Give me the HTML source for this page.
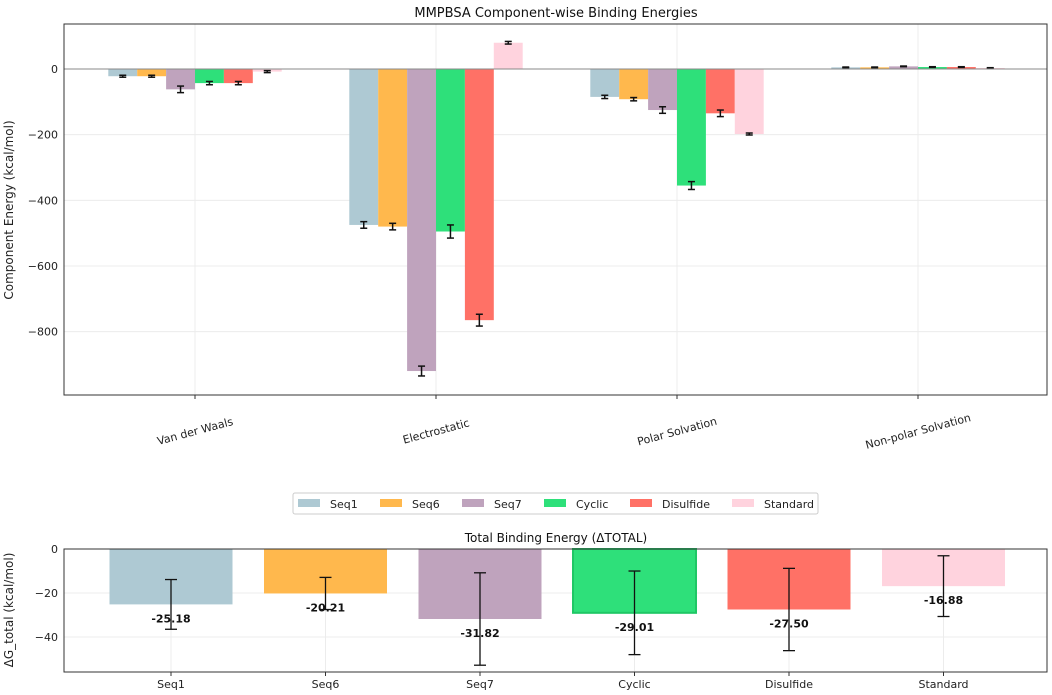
<!DOCTYPE html>
<html><head><meta charset="utf-8"><style>
body{margin:0;background:#fff;}
svg{display:block;font-family:"DejaVu Sans","Liberation Sans",sans-serif;}
</style></head><body>
<svg id="c" width="1052" height="695" viewBox="0 0 1052 695"></svg>
<script>
const categories=["Van der Waals","Electrostatic","Polar Solvation","Non-polar Solvation"];
const seriesNames=["Seq1","Seq6","Seq7","Cyclic","Disulfide","Standard"];
const colors=["#aec9d3","#ffb84d","#bfa3bd","#2ee07a","#ff7166","#ffd3de"];
const seq1Vals=[-22,-475,-85,5];
const seq6Vals=[-22,-480,-92,5];
const seq7Vals=[-62,-920,-125,8];
const cyclicVals=[-43,-495,-355,6];
const disulfideVals=[-43,-765,-135,6];
const standardVals=[-8,80,-198,3];
const seq1Err=[3,10,5,1];
const seq6Err=[3,10,5,1];
const seq7Err=[10,15,10,1];
const cyclicErr=[5,20,12,1];
const disulfideErr=[5,18,10,1];
const standardErr=[3,4,3,1];
const topTicks=[0,-200,-400,-600,-800];
const totalVals=[-25.18,-20.21,-31.82,-29.01,-27.50,-16.88];
const totalErr=[11.3,7.3,21,19,18.7,13.8];
const bottomTicks=[0,-20,-40];

const svg=document.getElementById('c');const NS='http://www.w3.org/2000/svg';
function mk(t,a,p){const e=document.createElementNS(NS,t);for(const k in a)e.setAttribute(k,a[k]);(p||svg).appendChild(e);return e;}
const allVals=[seq1Vals,seq6Vals,seq7Vals,cyclicVals,disulfideVals,standardVals];
const allErr=[seq1Err,seq6Err,seq7Err,cyclicErr,disulfideErr,standardErr];

const L=64,R=1047,T1=24,B1=395;
const y1=v=>69-v*0.3283;
const gx=i=>195+i*241;
const bw=28.9;
let t=mk('text',{x:556,y:17,'text-anchor':'middle','font-size':13,fill:'#111'});t.textContent='MMPBSA Component-wise Binding Energies';

topTicks.forEach(v=>{
 const g=mk('line',{x1:L,x2:R,y1:y1(v),y2:y1(v),stroke:'#ececec','stroke-width':1});
 
 const tx=mk('text',{x:L-6,y:y1(v)+4,'text-anchor':'end','font-size':11,fill:'#222'});tx.textContent=v===0?'0':'\u2212'+Math.abs(v);
 
});
categories.forEach((c,i)=>{
 mk('line',{x1:gx(i),x2:gx(i),y1:T1,y2:B1,stroke:'#ececec'});
 mk('line',{x1:gx(i),x2:gx(i),y1:B1,y2:B1+4,stroke:'#333'});
 const tx=mk('text',{x:gx(i),y:B1+40,'text-anchor':'middle','font-size':11,fill:'#222',transform:`rotate(-15 ${gx(i)} ${B1+36})`});tx.textContent=c;
 
});
allVals.forEach((vals,s)=>{
 vals.forEach((v,i)=>{
  const x=gx(i)-3*bw+s*bw;const ya=y1(Math.max(v,0)),yb=y1(Math.min(v,0));
  const r=mk('rect',{x:x,y:ya,width:bw,height:Math.max(yb-ya,0.5),fill:colors[s]});
  
  const cx=x+bw/2,e=allErr[s][i];
  mk('line',{x1:cx,x2:cx,y1:y1(v-e),y2:y1(v+e),stroke:'#111','stroke-width':1.5});
  mk('line',{x1:cx-3.5,x2:cx+3.5,y1:y1(v-e),y2:y1(v-e),stroke:'#111','stroke-width':1.5});
  mk('line',{x1:cx-3.5,x2:cx+3.5,y1:y1(v+e),y2:y1(v+e),stroke:'#111','stroke-width':1.5});
 });
});
mk('line',{x1:L,x2:R,y1:y1(0),y2:y1(0),stroke:'#888','stroke-width':1});
const f1=mk('rect',{x:L,y:T1,width:R-L,height:B1-T1,fill:'none',stroke:'#333','stroke-width':1});

t=mk('text',{x:13,y:210,'text-anchor':'middle','font-size':12,fill:'#222',transform:'rotate(-90 13 210)'});t.textContent='Component Energy (kcal/mol)';


const lg=mk('g',{});
mk('rect',{x:293,y:493,width:525,height:21,fill:'#fff',stroke:'#ccc',rx:2},lg);
const lx=[298,380,462,544,630,732];
seriesNames.forEach((n,s)=>{
 const p=mk('rect',{x:lx[s],y:499,width:22,height:8,fill:colors[s]},lg);
 
 const tx=mk('text',{x:lx[s]+32,y:508,'font-size':11,fill:'#222'},lg);tx.textContent=n;
 
});

const T2=549,B2=672;
const y2=v=>549-v*2.2;
const bx=i=>171+i*154.5;const bbw=123;
t=mk('text',{x:556,y:542,'text-anchor':'middle','font-size':12,fill:'#111'});t.textContent='Total Binding Energy (\u0394TOTAL)';

bottomTicks.forEach(v=>{
 mk('line',{x1:L,x2:R,y1:y2(v),y2:y2(v),stroke:'#ececec'});
 const tx=mk('text',{x:L-6,y:y2(v)+4,'text-anchor':'end','font-size':11,fill:'#222'});tx.textContent=v===0?'0':'\u2212'+Math.abs(v);
 
});
totalVals.forEach((v,i)=>{
 const cx=bx(i);
 mk('line',{x1:cx,x2:cx,y1:T2,y2:B2,stroke:'#ececec'});
 const r=mk('rect',{x:cx-bbw/2,y:y2(0),width:bbw,height:y2(v)-y2(0),fill:colors[i],stroke:i===3?'#1fc765':'none','stroke-width':2});
 
 const e=totalErr[i];
 mk('line',{x1:cx,x2:cx,y1:y2(v-e),y2:y2(v+e),stroke:'#111','stroke-width':1.3});
 mk('line',{x1:cx-6,x2:cx+6,y1:y2(v-e),y2:y2(v-e),stroke:'#111','stroke-width':1.3});
 mk('line',{x1:cx-6,x2:cx+6,y1:y2(v+e),y2:y2(v+e),stroke:'#111','stroke-width':1.3});
 const lab=mk('text',{x:cx,y:y2(v)+18,'text-anchor':'middle','font-size':11,'font-weight':'bold',fill:'#111'});lab.textContent=v.toFixed(2);
 
 mk('line',{x1:cx,x2:cx,y1:B2,y2:B2+4,stroke:'#333'});
 const tx=mk('text',{x:cx,y:B2+16,'text-anchor':'middle','font-size':11,fill:'#222'});tx.textContent=seriesNames[i];
 
});
const f2=mk('rect',{x:L,y:T2,width:R-L,height:B2-T2,fill:'none',stroke:'#333','stroke-width':1});

t=mk('text',{x:13,y:610,'text-anchor':'middle','font-size':12,fill:'#222',transform:'rotate(-90 13 610)'});t.textContent='\u0394G_total (kcal/mol)';

</script>
</body></html>
